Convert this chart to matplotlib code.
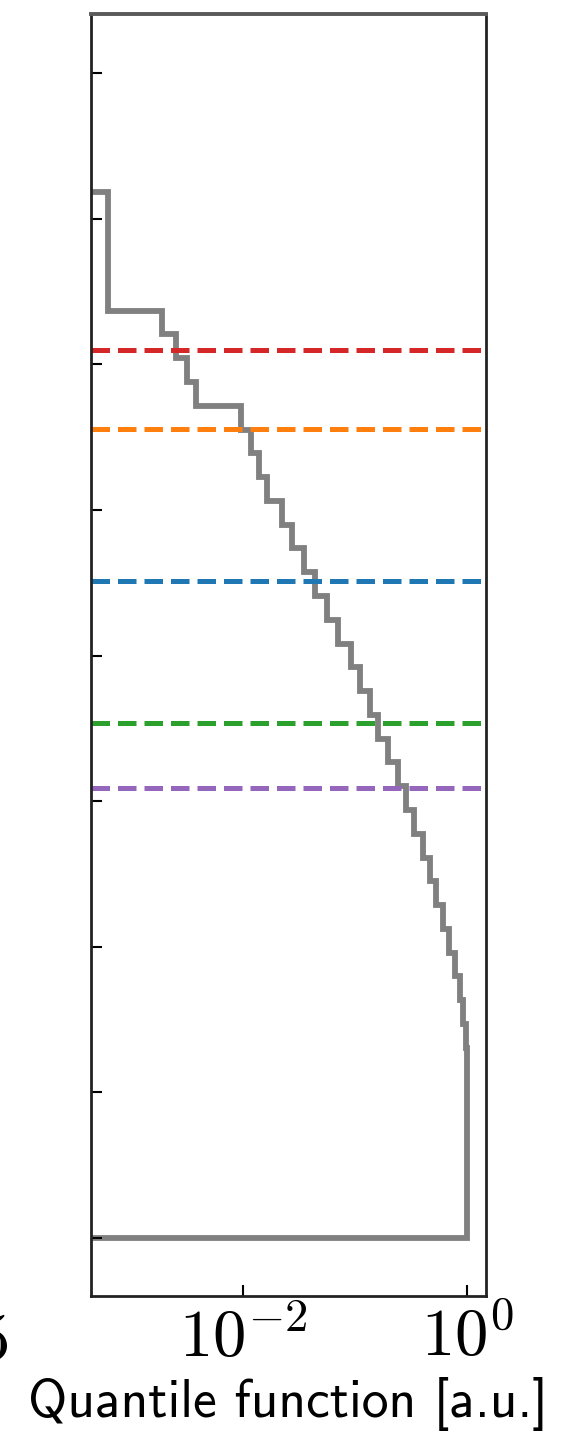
import numpy as np
import matplotlib
matplotlib.use('Agg')
import matplotlib.pyplot as plt

plt.rcParams['mathtext.fontset'] = 'cm'

# survival-like values per bin, bottom bin first
quantile_vals = [1.0, 1.0, 1.0, 1.0, 1.0, 1.0, 0.999, 0.995, 0.975, 0.919,
                 0.850, 0.775, 0.689, 0.610, 0.525, 0.464, 0.399, 0.337, 0.285, 0.238,
                 0.197, 0.158, 0.135, 0.110, 0.0906, 0.0705, 0.0559, 0.0437, 0.0349, 0.0271,
                 0.0220, 0.0163, 0.0138, 0.0117, 0.00956, 0.00379, 0.00313, 0.00252, 0.00187,
                 0.000622, 0.000622, 0.000622, 0.000622, 0.000622]
bin_start = 0.0
bin_width = 0.1633

# reference levels (dashed lines)
level_vals = [6.10, 5.556, 4.514, 3.535, 3.093]
level_colors = ['tab:red', 'tab:orange', 'tab:blue', 'tab:green', 'tab:purple']

ytick_vals = [0, 1, 2, 3, 4, 5, 6, 7, 8]
xtick_vals = [1e-2, 1e0]
xtick_labels = [r'$10^{-2}$', r'$10^{0}$']

edges = bin_start + bin_width * np.arange(len(quantile_vals) + 1)

fig = plt.figure(figsize=(5.65, 14.33), dpi=100)
ax = fig.add_axes([0.1605, 0.0956, 0.8593 - 0.1605, 0.9902 - 0.0956])

ax.stairs(quantile_vals, edges, orientation='horizontal', baseline=1e-6,
          color='gray', lw=4.2)
for lv, c in zip(level_vals, level_colors):
    ax.axhline(lv, color=c, ls='--', lw=3.6)

ax.set_xscale('log')
ax.set_xlim(4.36e-4, 1.45)
ax.set_ylim(-0.398, 8.406)

ax.set_xticks(xtick_vals, xtick_labels)
ax.xaxis.set_minor_locator(matplotlib.ticker.NullLocator())
ax.set_yticks(ytick_vals)
ax.set_yticklabels([])
ax.tick_params(axis='both', direction='in', length=8, width=1.5, labelsize=48, pad=6)
ax.tick_params(axis='x', top=False)
ax.tick_params(axis='y', right=False)

for s in ['left', 'bottom', 'right']:
    ax.spines[s].set_linewidth(2.0)
    ax.spines[s].set_color('#222222')
ax.spines['top'].set_linewidth(2.8)
ax.spines['top'].set_color('#5a5a5a')

ax.set_xlabel('Quantile function [a.u.]', fontsize=38.5, family='cmss10', labelpad=5)

# cut-off tick label of the neighbouring panel (also cut in the reference)
fig.text(8 / 565, 1 - 1360 / 1433, r'$5$', ha='right', va='baseline', fontsize=48)

fig.savefig('out.png', dpi=100)
